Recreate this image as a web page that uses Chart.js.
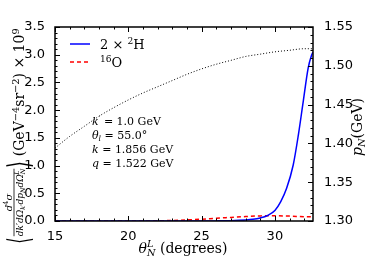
<!DOCTYPE html>
<html>
<head>
<meta charset="utf-8">
<script src="https://cdn.jsdelivr.net/npm/chart.js@4"></script>
<style>
  html, body { margin: 0; padding: 0; background: #fff; }
  #wrap { width: 369px; height: 277px; }
</style>
</head>
<body>
<div id="wrap"><canvas id="c" width="369" height="277"></canvas></div>
<script>
// 2 x 2H cross section (x 1e9)
const angleH = [15, 20, 24, 26, 27, 28, 28.5, 29, 29.5, 30, 30.4, 30.8, 31.25, 31.6, 31.93, 32.27, 32.5, 32.6];
const sigmaH = [0, 0, 0, 0.002, 0.006, 0.018, 0.03, 0.055, 0.1, 0.19, 0.35, 0.59, 1.01, 1.55, 2.15, 2.76, 2.99, 3.05];
// 16O cross section (x 1e9)
const angleO = [15, 20, 22, 23, 24, 25, 26, 27, 28, 29, 30, 31, 32, 32.6];
const sigmaO = [0, 0, 0.003, 0.01, 0.02, 0.033, 0.05, 0.065, 0.08, 0.092, 0.095, 0.088, 0.078, 0.075];
// nucleon momentum p_N (GeV), right axis
const angleP = [15, 16, 17, 18, 19, 20, 21, 22, 23, 24, 25, 26, 27, 28, 29, 30, 31, 32, 32.6];
const momentumP = [1.394, 1.409, 1.422, 1.435, 1.446, 1.456, 1.465, 1.473, 1.481, 1.489, 1.496, 1.502, 1.507, 1.512, 1.515, 1.518, 1.520, 1.522, 1.522];

const xTicks = [15, 20, 25, 30];
const yTicks = [0, 0.5, 1.0, 1.5, 2.0, 2.5, 3.0, 3.5];
const y2Ticks = [1.30, 1.35, 1.40, 1.45, 1.50, 1.55];

const pts = (xs, ys) => xs.map((x, i) => ({ x: x, y: ys[i] }));

const SERIF = '"DejaVu Serif", "Liberation Serif", serif';

// draw a run of rich text segments starting at (x, y) baseline; returns width
function rich(ctx, segs, x, y, size, measureOnly) {
  let cx = x;
  for (const s of segs) {
    const sz = s.sup || s.sub ? size * 0.7 : (s.size || size);
    ctx.font = (s.it ? 'italic ' : '') + sz + 'px ' + SERIF;
    const dy = s.sup ? -size * 0.38 : (s.sub ? size * 0.22 : 0);
    if (!measureOnly) ctx.fillText(s.t, cx, y + dy);
    cx += ctx.measureText(s.t).width + (s.gap || 0);
  }
  return cx - x;
}

function bracket(ctx, ch, u, v) {
  // tall, narrow angle bracket glyph
  ctx.save();
  ctx.translate(u, v);
  ctx.scale(0.55, 1);
  ctx.font = '30px ' + SERIF;
  ctx.fillText(ch, 0, 0);
  const w = ctx.measureText(ch).width * 0.55;
  ctx.restore();
  return w;
}

const decor = {
  id: 'decor',
  afterDatasetsDraw(chart) {
    const ctx = chart.ctx;
    const a = chart.chartArea;
    const sx = chart.scales.x, sy = chart.scales.y, sy2 = chart.scales.y2;
    ctx.save();
    ctx.strokeStyle = '#000';
    ctx.fillStyle = '#000';
    ctx.lineWidth = 1;
    ctx.beginPath();
    for (let v = 15; v <= 32; v++) {
      const px = Math.round(sx.getPixelForValue(v)) + 0.5;
      const len = v % 5 === 0 ? 5 : 2.5;
      ctx.moveTo(px, a.bottom); ctx.lineTo(px, a.bottom - len);
      ctx.moveTo(px, a.top); ctx.lineTo(px, a.top + len);
    }
    for (let i = 0; i <= 35; i++) {
      const py = Math.round(sy.getPixelForValue(i / 10)) + 0.5;
      const len = i % 5 === 0 ? 5 : 2.5;
      ctx.moveTo(a.left, py); ctx.lineTo(a.left + len, py);
    }
    for (let i = 130; i <= 155; i++) {
      const py = Math.round(sy2.getPixelForValue(i / 100)) + 0.5;
      const len = i % 5 === 0 ? 5 : 2.5;
      ctx.moveTo(a.right, py); ctx.lineTo(a.right - len, py);
    }
    ctx.stroke();
    ctx.lineWidth = 1.5;
    ctx.strokeRect(a.left, a.top, a.right - a.left, a.bottom - a.top);

    // legend
    ctx.lineWidth = 1.5;
    ctx.strokeStyle = '#0000ff';
    ctx.setLineDash([]);
    ctx.beginPath(); ctx.moveTo(70, 44); ctx.lineTo(90, 44); ctx.stroke();
    ctx.strokeStyle = '#ff0000';
    ctx.setLineDash([4, 3]);
    ctx.beginPath(); ctx.moveTo(70, 62); ctx.lineTo(90, 62); ctx.stroke();
    ctx.setLineDash([]);
    ctx.textBaseline = 'alphabetic';
    ctx.textAlign = 'left';
    rich(ctx, [{ t: '2 × ' }, { t: '2', sup: 1 }, { t: 'H' }], 100, 49, 13);
    rich(ctx, [{ t: '16', sup: 1 }, { t: 'O' }], 100, 67, 13);

    // kinematics
    rich(ctx, [{ t: 'k', it: 1 }, { t: '′', sup: 1 }, { t: ' = 1.0 GeV' }], 92, 125, 11);
    rich(ctx, [{ t: 'θ', it: 1 }, { t: 'l', it: 1, sub: 1 }, { t: ' = 55.0°' }], 92, 139, 11);
    rich(ctx, [{ t: 'k', it: 1 }, { t: ' = 1.856 GeV' }], 92, 153, 11);
    rich(ctx, [{ t: 'q', it: 1 }, { t: ' = 1.522 GeV' }], 92, 167, 11);

    // x title
    const xt = [{ t: 'θ', it: 1 }, { t: 'N', it: 1, sub: 1 }, { t: ' (degrees)' }];
    const xw = rich(ctx, xt, 0, 0, 14, true);
    const x0 = 183 - xw / 2;
    rich(ctx, xt, x0, 253, 14);
    ctx.font = 'italic 14px ' + SERIF;
    const thw = ctx.measureText('θ').width;
    ctx.font = 'italic 9.8px ' + SERIF;
    ctx.fillText('L', x0 + thw, 247);

    // right title
    ctx.save();
    ctx.translate(362, 127);
    ctx.rotate(-Math.PI / 2);
    const rt = [{ t: 'p', it: 1 }, { t: 'N', it: 1, sub: 1 }, { t: '(GeV)' }];
    const rw = rich(ctx, rt, 0, 0, 14, true);
    rich(ctx, rt, -rw / 2, 0, 14);
    ctx.restore();

    // left title
    ctx.save();
    ctx.translate(20, 136);
    ctx.rotate(-Math.PI / 2);
    const den = [{ t: 'dk′dΩ', it: 1 }, { t: 'k′', it: 1, sub: 1 }, { t: 'dp', it: 1 }, { t: 'N', it: 1, sub: 1 }, { t: 'dΩ', it: 1 }, { t: 'N', it: 1, sub: 1 }];
    const num = [{ t: 'd', it: 1 }, { t: '4', sup: 1 }, { t: 'σ', it: 1 }];
    const tail = [{ t: '(GeV' }, { t: '−4', sup: 1 }, { t: 'sr' }, { t: '−2', sup: 1 }, { t: ') × 10' }, { t: '9', sup: 1 }];
    const dw = rich(ctx, den, 0, 0, 9, true);
    const nw = rich(ctx, num, 0, 0, 10, true);
    const tw = rich(ctx, tail, 0, 0, 14, true);
    ctx.font = '30px ' + SERIF;
    const bw = ctx.measureText('⟨').width * 0.55;
    const total = bw + 1 + dw + 1 + bw + 5 + tw;
    const k = Math.min(1, 256 / total);
    ctx.scale(k, 1);
    let u = -total / 2;
    bracket(ctx, '⟨', u, 9);
    u += bw + 1;
    rich(ctx, num, u + (dw - nw) / 2, -8, 10);
    ctx.lineWidth = 0.8;
    ctx.strokeStyle = '#000';
    ctx.beginPath(); ctx.moveTo(u, -6); ctx.lineTo(u + dw, -6); ctx.stroke();
    rich(ctx, den, u, 3, 9);
    // L superscript on the last Omega
    ctx.font = 'italic 6.3px ' + SERIF;
    ctx.fillText('L', u + dw - 6, -1);
    u += dw + 1;
    bracket(ctx, '⟩', u, 9);
    u += bw + 5;
    rich(ctx, tail, u, 4, 14);
    ctx.restore();

    ctx.restore();
  }
};

new Chart(document.getElementById('c'), {
  type: 'line',
  data: {
    datasets: [
      {
        label: '2 × 2H',
        data: pts(angleH, sigmaH),
        borderColor: '#0000ff',
        borderWidth: 1.5,
        pointRadius: 0,
        cubicInterpolationMode: 'monotone',
        yAxisID: 'y'
      },
      {
        label: '16O',
        data: pts(angleO, sigmaO),
        borderColor: '#ff0000',
        borderWidth: 1.5,
        borderDash: [4, 3],
        pointRadius: 0,
        cubicInterpolationMode: 'monotone',
        yAxisID: 'y'
      },
      {
        label: 'pN',
        data: pts(angleP, momentumP),
        borderColor: '#000',
        borderWidth: 1,
        borderDash: [1, 2],
        pointRadius: 0,
        cubicInterpolationMode: 'monotone',
        yAxisID: 'y2'
      }
    ]
  },
  options: {
    responsive: false,
    animation: false,
    events: [],
    layout: { padding: { top: 27, left: 0, right: 0, bottom: 0 } },
    plugins: { legend: { display: false }, tooltip: { enabled: false } },
    scales: {
      x: {
        type: 'linear',
        min: 15,
        max: 32.6,
        grid: { display: false },
        border: { display: false },
        afterBuildTicks: s => { s.ticks = xTicks.map(v => ({ value: v })); },
        afterFit: s => { s.height = 56; },
        ticks: { color: '#000', padding: 0, font: { family: 'DejaVu Sans', size: 13 }, maxRotation: 0 }
      },
      y: {
        position: 'left',
        min: 0,
        max: 3.5,
        grid: { display: false },
        border: { display: false },
        afterBuildTicks: s => { s.ticks = yTicks.map(v => ({ value: v })); },
        afterFit: s => { s.width = 55; },
        ticks: { color: '#000', padding: 2, font: { family: 'DejaVu Sans', size: 13 }, callback: v => v.toFixed(1) }
      },
      y2: {
        position: 'right',
        min: 1.30,
        max: 1.55,
        grid: { display: false },
        border: { display: false },
        afterBuildTicks: s => { s.ticks = y2Ticks.map(v => ({ value: v })); },
        afterFit: s => { s.width = 56; },
        ticks: { color: '#000', padding: 3, font: { family: 'DejaVu Sans', size: 13 }, callback: v => v.toFixed(2) }
      }
    }
  },
  plugins: [decor]
});
</script>
</body>
</html>
